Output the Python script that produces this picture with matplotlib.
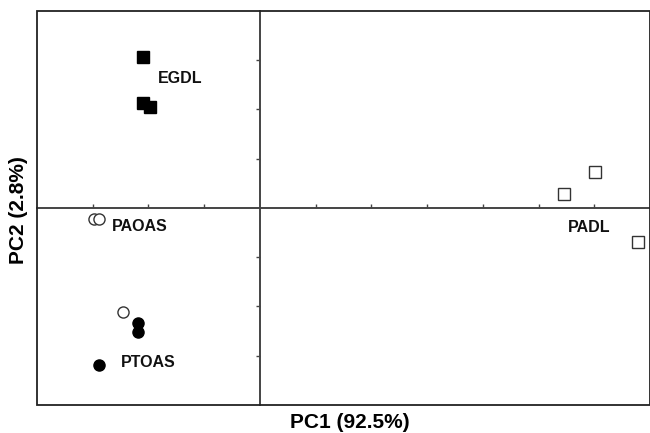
import matplotlib.pyplot as plt
from matplotlib.patches import Rectangle

plt.rcParams['font.family'] = ['Liberation Sans', 'DejaVu Sans']

# scores on PC1 / PC2, one group per sample type
egdl_x = [-2.09, -2.09, -1.98]
egdl_y = [3.06, 2.12, 2.04]

paoas_x = [-2.98, -2.89]
paoas_y = [-0.22, -0.22]

ptoas_open_x = [-2.45]
ptoas_open_y = [-2.12]
ptoas_x = [-2.18, -2.18, -2.89]
ptoas_y = [-2.33, -2.53, -3.20]

padl_x = [5.46, 6.02, 6.79]
padl_y = [0.29, 0.73, -0.69]

group_names = ['EGDL', 'PAOAS', 'PTOAS', 'PADL']
label_x = [-1.84, -2.65, -2.50, 5.52]
label_y = [2.63, -0.37, -3.14, -0.39]

x_ticks = [-3, -2, -1, 1, 2, 3, 4, 5, 6]
y_ticks = [-3, -2, -1, 1, 2, 3]

fig = plt.figure(figsize=(6.5, 4.33), dpi=100)
ax = fig.add_axes([0.057, 0.065, 0.943, 0.91])
ax.set_xlim(-4, 7)
ax.set_ylim(-4, 4)

# axes crossing at the origin
for side in ['top', 'right']:
    ax.spines[side].set_visible(False)
ax.spines['left'].set_position(('data', 0))
ax.spines['bottom'].set_position(('data', 0))
ax.spines['left'].set_color('#444444')
ax.spines['bottom'].set_color('#444444')
ax.spines['left'].set_linewidth(1.4)
ax.spines['bottom'].set_linewidth(1.4)
ax.add_patch(Rectangle((0, 0), 1, 1, transform=ax.transAxes, fill=False,
                       edgecolor='#222222', linewidth=1.3, clip_on=False, zorder=5))

ax.set_xticks(x_ticks)
ax.set_yticks(y_ticks)
ax.set_xticklabels([])
ax.set_yticklabels([])
ax.tick_params(axis='x', direction='in', length=3, width=1, color='#444444')
ax.tick_params(axis='y', direction='out', length=3, width=1, color='#444444')

ax.plot(egdl_x, egdl_y, 's', color='black', markersize=9, zorder=6)
ax.plot(paoas_x, paoas_y, 'o', markerfacecolor='white', markeredgecolor='#333333',
        markeredgewidth=1, markersize=8, zorder=6)
ax.plot(ptoas_open_x, ptoas_open_y, 'o', markerfacecolor='white', markeredgecolor='#333333',
        markeredgewidth=1, markersize=8, zorder=6)
ax.plot(ptoas_x, ptoas_y, 'o', color='black', markersize=8, zorder=6)
ax.plot(padl_x, padl_y, 's', markerfacecolor='white', markeredgecolor='#333333',
        markeredgewidth=1, markersize=8.5, zorder=6)

for name, lx, ly in zip(group_names, label_x, label_y):
    ax.text(lx, ly, name, fontsize=11.5, fontweight='bold', color='#111111',
            ha='left', va='center')

fig.text(0.538, 0.025, 'PC1 (92.5%)', fontsize=15, fontweight='bold',
         ha='center', va='center')
fig.text(0.028, 0.515, 'PC2 (2.8%)', fontsize=15, fontweight='bold',
         ha='center', va='center', rotation=90)

fig.savefig('out.png', dpi=100)
